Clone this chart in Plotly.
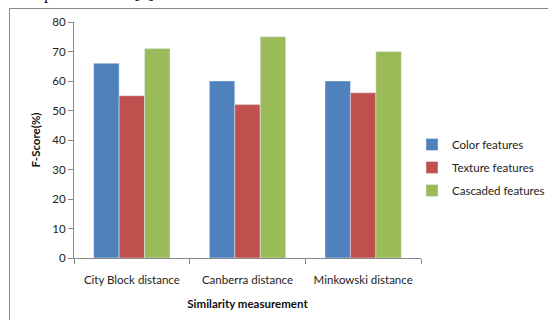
import plotly.graph_objects as go

# Similarity measures compared on the x axis
categories = ["City Block distance", "Canberra distance", "Minkowski distance"]

# F-Score (%) per feature set
color_features = [66, 60, 60]
texture_features = [55, 52, 56]
cascaded_features = [71, 75, 70]

y_ticks = [0, 10, 20, 30, 40, 50, 60, 70, 80]

FONT = "Lato"
FS = 11.5

fig = go.Figure()
fig.add_trace(go.Bar(name="Color features", x=categories, y=color_features,
                     legendgroup="c", marker=dict(color="#4F81BD")))
fig.add_trace(go.Bar(name="Texture features", x=categories, y=texture_features,
                     legendgroup="t", marker=dict(color="#C0504D")))
fig.add_trace(go.Bar(name="Cascaded features", x=categories, y=cascaded_features,
                     legendgroup="k", marker=dict(color="#9BBB59")))

W, H = 548, 320
ML, MR, MT, MB = 74, 127, 22, 62
pw, ph = W - ML - MR, H - MT - MB


def px_x(p):
    return (p - ML) / pw


def px_y(p):
    return (H - MB - p) / ph


fig.update_layout(
    width=W, height=H,
    margin=dict(l=ML, r=MR, t=MT, b=MB, pad=0, autoexpand=False),
    paper_bgcolor="white", plot_bgcolor="white",
    barmode="group", bargap=0.34, bargroupgap=0,
    font=dict(family=FONT, size=FS, color="#222222"),
    showlegend=True,
    legend=dict(xref="container", yref="container",
                x=412 / W, y=1 - 130 / H, xanchor="left", yanchor="top",
                font=dict(family=FONT, size=FS, color="#222222"),
                itemwidth=30, tracegroupgap=4, bgcolor="rgba(0,0,0,0)"),
    xaxis=dict(
        automargin=False,
        showline=True, linecolor="#888888", linewidth=1,
        ticks="outside", ticklen=5, tickcolor="#888888", tickson="boundaries",
        ticklabelstandoff=11,
        tickfont=dict(family=FONT, size=FS, color="#222222"),
        title=dict(text="<b>Similarity measurement</b>", standoff=15,
                   font=dict(family=FONT, size=FS, color="#111111")),
        showgrid=False, zeroline=False,
    ),
    yaxis=dict(
        automargin=False,
        range=[0, 80], tickvals=y_ticks,
        showline=True, linecolor="#888888", linewidth=1,
        ticks="outside", ticklen=5, tickcolor="#888888",
        tickfont=dict(family=FONT, size=FS, color="#222222"),
        title=dict(text="<b>F-Score(%)</b>", standoff=9,
                   font=dict(family=FONT, size=FS, color="#111111")),
        showgrid=False, zeroline=False,
    ),
    shapes=[dict(type="rect", xref="paper", yref="paper",
                 x0=px_x(9.5), x1=px_x(600), y0=px_y(360), y1=px_y(8.5),
                 line=dict(color="#888888", width=1), fillcolor="rgba(0,0,0,0)",
                 layer="below")],
    annotations=[dict(text="performance [7].", xref="paper", yref="paper",
                      x=px_x(160), y=px_y(5), xanchor="right", yanchor="bottom",
                      showarrow=False,
                      font=dict(family="Liberation Serif", size=17, color="#111111"))],
)

fig.write_html("out.html")
